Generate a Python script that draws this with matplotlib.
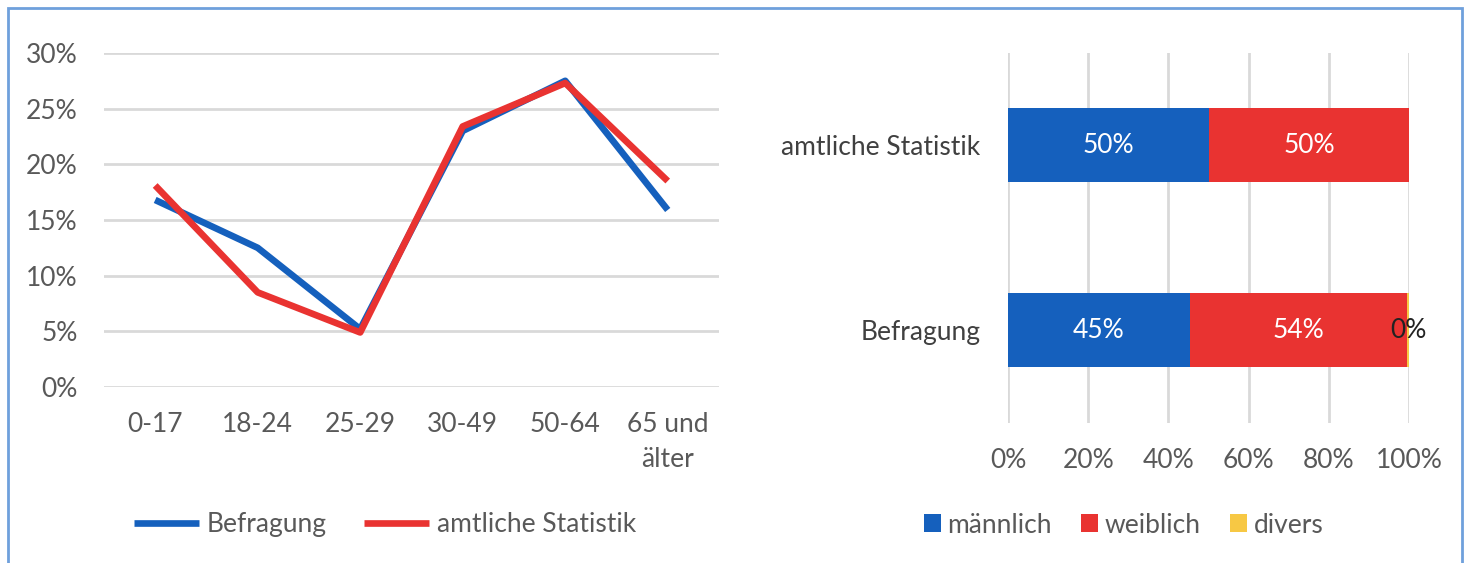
import matplotlib
matplotlib.use("Agg")
import matplotlib.pyplot as plt
from matplotlib.patches import Rectangle
from matplotlib.ticker import PercentFormatter

plt.rcParams['font.family'] = ['Lato', 'DejaVu Sans']

# ---- data ----
age_groups = ["0-17", "18-24", "25-29", "30-49", "50-64", "65 und\nälter"]
befragung_age = [16.8, 12.5, 5.2, 23.0, 27.5, 15.9]
amtlich_age = [18.1, 8.5, 4.9, 23.4, 27.3, 18.5]

bar_categories = ["Befragung", "amtliche Statistik"]
maennlich = [45.3, 50.2]
weiblich = [54.3, 49.8]
divers = [0.4, 0.0]
gender_labels = ["männlich", "weiblich", "divers"]

BLUE = "#1560bd"
RED = "#e93331"
YELLOW = "#f7c844"
GRID = "#d9d9d9"
TXT = "#595959"
FS = 19

fig = plt.figure(figsize=(14.7, 5.63), dpi=100)

# outer border
fig.patches.append(Rectangle((8/1470, -0.01), (1462-8)/1470, 1 - 8/563 + 0.01,
                             transform=fig.transFigure, fill=False,
                             edgecolor="#6fa0dc", linewidth=2))

# ---- left: line chart ----
ax1 = fig.add_axes([0.0707, 0.3126, 0.4184, 0.5933])
x = list(range(len(age_groups)))
ax1.plot(x, befragung_age, color=BLUE, lw=4.8, solid_capstyle='butt', label="Befragung")
ax1.plot(x, amtlich_age, color=RED, lw=4.8, solid_capstyle='butt', label="amtliche Statistik")
ax1.set_xlim(-0.5, len(age_groups) - 0.5)
ax1.set_ylim(0, 30)
ax1.set_yticks([0, 5, 10, 15, 20, 25, 30])
ax1.yaxis.set_major_formatter(PercentFormatter(decimals=0))
ax1.set_xticks(x)
ax1.set_xticklabels(age_groups, linespacing=1.5, va='top')
ax1.grid(axis='y', color=GRID, lw=2)
ax1.set_axisbelow(True)
for s in ax1.spines.values():
    s.set_visible(False)
ax1.tick_params(axis='both', length=0, labelsize=FS, labelcolor=TXT)
ax1.tick_params(axis='y', pad=19)
ax1.tick_params(axis='x', pad=18)
ax1.legend(loc='center', bbox_to_anchor=(0.457, -0.413), ncol=2, frameon=False,
           fontsize=FS, labelcolor=TXT, handlelength=2.46, handletextpad=0.3,
           columnspacing=1.4)

# ---- right: stacked bar chart ----
ax2 = fig.add_axes([0.6857, 0.2487, 0.2728, 0.6572])
y = list(range(len(bar_categories)))
m = [v / 100 for v in maennlich]
w = [v / 100 for v in weiblich]
d = [v / 100 for v in divers]
h = 0.4
ax2.barh(y, m, height=h, color=BLUE, label=gender_labels[0])
ax2.barh(y, w, left=m, height=h, color=RED, label=gender_labels[1])
ax2.barh(y, d, left=[a + b for a, b in zip(m, w)], height=h, color=YELLOW,
         label=gender_labels[2])
for i in y:
    ax2.text(m[i] / 2, i, f"{maennlich[i]:.0f}%", ha='center', va='center',
             color='white', fontsize=FS)
    ax2.text(m[i] + w[i] / 2, i, f"{weiblich[i]:.0f}%", ha='center', va='center',
             color='white', fontsize=FS)
    if divers[i] > 0:
        ax2.text(m[i] + w[i] + d[i] / 2, i, f"{divers[i]:.0f}%", ha='center',
                 va='center', color='#222222', fontsize=FS)
ax2.set_xlim(0, 1)
ax2.set_ylim(-0.5, 1.5)
ax2.set_xticks([0, 0.2, 0.4, 0.6, 0.8, 1.0])
ax2.xaxis.set_major_formatter(PercentFormatter(xmax=1, decimals=0))
ax2.set_yticks(y)
ax2.set_yticklabels(bar_categories)
ax2.grid(axis='x', color=GRID, lw=2)
ax2.set_axisbelow(True)
for s in ax2.spines.values():
    s.set_visible(False)
ax2.tick_params(axis='both', length=0, labelsize=FS, labelcolor=TXT)
ax2.tick_params(axis='y', pad=20, labelcolor='#404040')
ax2.tick_params(axis='x', pad=18)
ax2.legend(loc='center', bbox_to_anchor=(0.288, -0.276), ncol=3, frameon=False,
           fontsize=FS, labelcolor=TXT, handlelength=0.65, handleheight=0.68,
           handletextpad=0.25, columnspacing=1.1)

fig.savefig("out.png", dpi=100)
